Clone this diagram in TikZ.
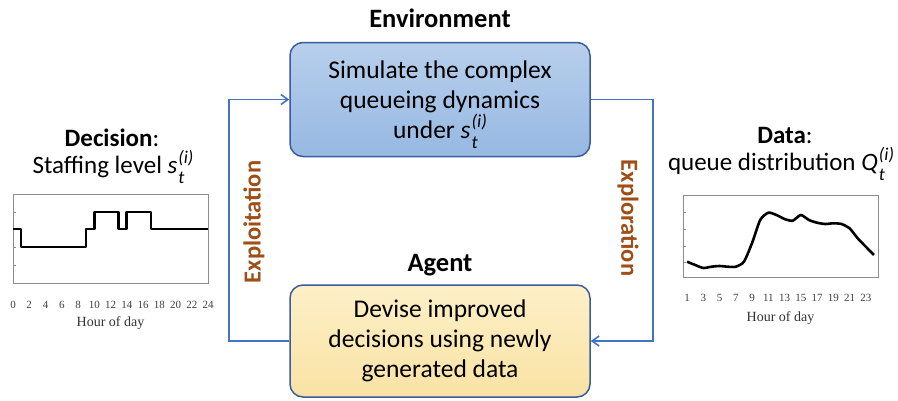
\documentclass[tikz,border=0pt]{standalone}
\usepackage{fontspec}
\setmainfont{Carlito}
\newfontfamily\plotfont{Liberation Serif}
\usetikzlibrary{arrows.meta, positioning}

\definecolor{edgeblue}{RGB}{58,92,156}
\definecolor{linkblue}{RGB}{68,114,196}
\definecolor{envtop}{RGB}{184,207,236}
\definecolor{envbot}{RGB}{150,184,226}
\definecolor{agtop}{RGB}{253,240,200}
\definecolor{agbot}{RGB}{249,226,164}
\definecolor{loopbrown}{RGB}{158,78,22}

% italic variable with stacked (i) and t
\newcommand{\idx}[1]{\textit{#1}\hspace{1pt}\smash{\raisebox{-0.4em}{\rlap{\fontsize{0.72em}{1em}\selectfont\textit{t}}}%
  \raisebox{0.42em}{\fontsize{0.72em}{1em}\selectfont\textit{(i)}}}}

\begin{document}
\begin{tikzpicture}[x=1pt, y=-1pt, >={Straight Barb[length=7pt,width=10pt]},
  card/.style={draw=edgeblue, line width=1.5pt, rounded corners=13pt,
    minimum width=300pt, minimum height=114pt, align=center,
    font=\fontsize{25.5}{30}\selectfont, inner sep=0pt},
  flow/.style={draw=linkblue, line width=1.6pt},
  heading/.style={font=\fontsize{26.5}{30}\selectfont\bfseries},
  caption/.style={font=\fontsize{25}{28}\selectfont},
  looplabel/.style={font=\fontsize{24.5}{28}\selectfont\bfseries, text=loopbrown},
  plotframe/.style={draw=black!45, line width=0.7pt},
  curve/.style={draw=black, line width=2.6pt, line join=round},
  tick/.style={font=\plotfont\fontsize{11}{12}\selectfont, text=black!75, inner sep=0pt},
  axisname/.style={font=\plotfont\fontsize{14}{16}\selectfont, text=black!80, inner sep=0pt}]
  \useasboundingbox[fill=white] (0,0) rectangle (898,400);

  % the two boxes
  \node[card, top color=envtop, bottom color=envbot] (env) at (440,99.5)
    {Simulate the complex\\queueing dynamics\\under \idx{s}};
  \node[card, top color=agtop, bottom color=agbot, minimum height=112pt] (agent) at (440,341)
    {Devise improved\\decisions using newly\\generated data};
  \node[heading] (envtitle) at (440,18) {Environment};
  \node[heading] (agtitle) at (440,265) {Agent};

  % feedback loop
  \draw[flow, ->] (agent.west) -- ++(-60,0) |- (env.west);
  \draw[flow, ->] (env.east) -- ++(62,0) |- (agent.east);
  \node[looplabel, rotate=90] (exploit) at (254,222) {Exploitation};
  \node[looplabel, rotate=-90] (explore) at (628,218) {Exploration};

  % decision panel
  \node[caption] (dectitle) at (112,138) {\textbf{Decision}:};
  \node[caption] (staff) at (113,167) {Staffing level \idx{s}};
  \begin{scope}[shift={(13,0)}, x=8.125pt]
    \draw[plotframe] (0,194) rectangle (24,283);
    \foreach \t in {212,229,247,265} \draw[plotframe] (0,\t) -- (0.4,\t);
    \draw[curve] (0,229) -- (1,229) -- (1,247) -- (9,247) -- (9,229) -- (10,229)
      -- (10,212) -- (13,212) -- (13,229) -- (14,229) -- (14,212) -- (17,212)
      -- (17,229) -- (24,229);
    \foreach \h in {0,2,...,24} \node[tick] (lt\h) at (\h,305) {\h};
    \node[axisname] (lhour) at (12,323) {Hour of day};
  \end{scope}

  % data panel
  \node[caption] (datatitle) at (785,135) {\textbf{Data}:};
  \node[caption] (queue) at (781,164) {queue distribution \idx{Q}};
  \begin{scope}[shift={(683,0)}, x=8.125pt]
    \draw[plotframe] (0,195) rectangle (24,277);
    \foreach \t in {212,229,246,262} \draw[plotframe] (0,\t) -- (0.4,\t);
    \draw[curve] plot[smooth, tension=0.4] coordinates {
      (0.5,261.7) (1.5,265) (2.5,268) (3.5,266.7) (4.5,266) (5.5,266.7)
      (6.5,266.7) (7.5,261.7) (8.5,243) (9.5,220) (10.5,212.7) (11.5,215)
      (12.5,219) (13.5,220.7) (14.5,215) (15.5,220) (16.5,222.7) (17.5,224)
      (18.5,223.3) (19.5,224) (20.5,228.3) (21.5,238.3) (22.5,246.7) (23.5,255)};
    \foreach \h in {1,3,...,23} \node[tick] (rt\h) at (\h-0.5,298) {\h};
    \node[axisname] (rhour) at (12,318) {Hour of day};
  \end{scope}
\end{tikzpicture}
\end{document}
